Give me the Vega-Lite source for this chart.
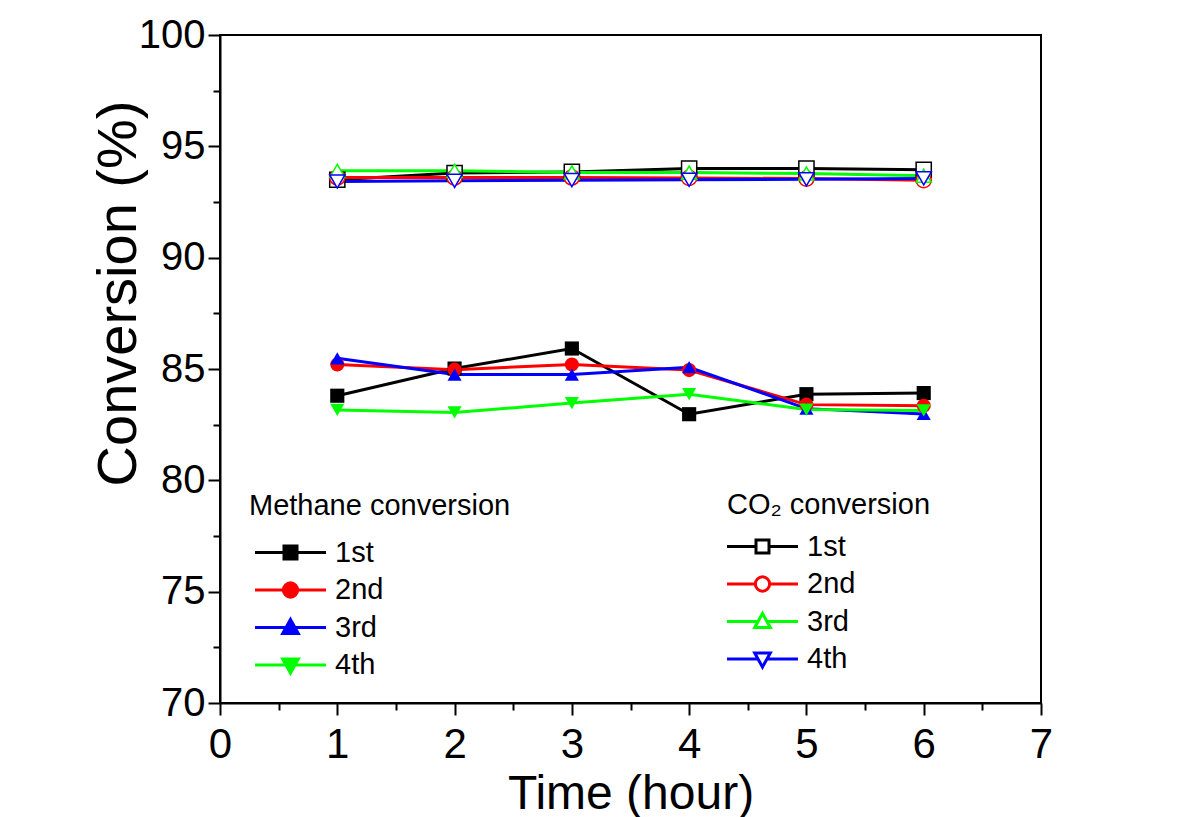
{
  "$schema": "https://vega.github.io/schema/vega-lite/v6.json",
  "width": 821,
  "height": 668,
  "autosize": {"type": "none"},
  "padding": {"left": 220, "top": 35, "right": 154, "bottom": 114},
  "background": "white",
  "config": {
    "font": "Liberation Sans",
    "view": {"stroke": "black", "strokeWidth": 2},
    "axis": {
      "grid": false,
      "domainColor": "black",
      "domainWidth": 2,
      "tickColor": "black",
      "tickWidth": 2,
      "labelColor": "black",
      "titleColor": "black",
      "titleFontWeight": "normal",
      "labelOverlap": false,
      "labelFlush": false,
      "labelBound": false
    },
    "legend": {
      "titleFontWeight": "normal",
      "titleColor": "black",
      "labelColor": "black",
      "titleFontSize": 29,
      "labelFontSize": 29,
      "titleFont": "Liberation Sans",
      "labelFont": "Liberation Sans",
      "titleLimit": 400,
      "padding": 0,
      "symbolOpacity": 1
    }
  },
  "datasets": {
    "methane": [
      {"t": 1, "run": "1st", "conv": 83.8},
      {"t": 2, "run": "1st", "conv": 85.02},
      {"t": 3, "run": "1st", "conv": 85.92},
      {"t": 4, "run": "1st", "conv": 82.97},
      {"t": 5, "run": "1st", "conv": 83.87},
      {"t": 6, "run": "1st", "conv": 83.92},
      {"t": 1, "run": "2nd", "conv": 85.2},
      {"t": 2, "run": "2nd", "conv": 84.97},
      {"t": 3, "run": "2nd", "conv": 85.2},
      {"t": 4, "run": "2nd", "conv": 84.95},
      {"t": 5, "run": "2nd", "conv": 83.4},
      {"t": 6, "run": "2nd", "conv": 83.35},
      {"t": 1, "run": "3rd", "conv": 85.48},
      {"t": 2, "run": "3rd", "conv": 84.75},
      {"t": 3, "run": "3rd", "conv": 84.75},
      {"t": 4, "run": "3rd", "conv": 85.08},
      {"t": 5, "run": "3rd", "conv": 83.22},
      {"t": 6, "run": "3rd", "conv": 82.98},
      {"t": 1, "run": "4th", "conv": 83.16},
      {"t": 2, "run": "4th", "conv": 83.05},
      {"t": 3, "run": "4th", "conv": 83.47},
      {"t": 4, "run": "4th", "conv": 83.87},
      {"t": 5, "run": "4th", "conv": 83.18},
      {"t": 6, "run": "4th", "conv": 83.14}
    ],
    "co2": [
      {"t": 1, "run": "1st", "conv": 93.5},
      {"t": 2, "run": "1st", "conv": 93.8},
      {"t": 3, "run": "1st", "conv": 93.85},
      {"t": 4, "run": "1st", "conv": 94.0},
      {"t": 5, "run": "1st", "conv": 94.0},
      {"t": 6, "run": "1st", "conv": 93.95},
      {"t": 1, "run": "2nd", "conv": 93.6},
      {"t": 2, "run": "2nd", "conv": 93.6},
      {"t": 3, "run": "2nd", "conv": 93.6},
      {"t": 4, "run": "2nd", "conv": 93.58},
      {"t": 5, "run": "2nd", "conv": 93.55},
      {"t": 6, "run": "2nd", "conv": 93.48},
      {"t": 1, "run": "3rd", "conv": 93.9},
      {"t": 2, "run": "3rd", "conv": 93.9},
      {"t": 3, "run": "3rd", "conv": 93.83},
      {"t": 4, "run": "3rd", "conv": 93.82},
      {"t": 5, "run": "3rd", "conv": 93.78},
      {"t": 6, "run": "3rd", "conv": 93.68},
      {"t": 1, "run": "4th", "conv": 93.42},
      {"t": 2, "run": "4th", "conv": 93.45},
      {"t": 3, "run": "4th", "conv": 93.48},
      {"t": 4, "run": "4th", "conv": 93.5},
      {"t": 5, "run": "4th", "conv": 93.52},
      {"t": 6, "run": "4th", "conv": 93.56}
    ]
  },
  "encoding": {
    "x": {
      "field": "t",
      "type": "quantitative",
      "scale": {"domain": [0, 7], "nice": false, "zero": false},
      "axis": {
        "title": "Time (hour)",
        "values": [0, 0.5, 1, 1.5, 2, 2.5, 3, 3.5, 4, 4.5, 5, 5.5, 6, 6.5, 7],
        "labelExpr": "datum.value % 1 === 0 ? format(datum.value, 'd') : ''",
        "tickSize": {"condition": {"test": "datum.value % 1 === 0", "value": 12}, "value": 7},
        "labelFontSize": 42,
        "labelPadding": 9,
        "titleFontSize": 48,
        "titleBaseline": "alphabetic",
        "titleY": 105
      }
    },
    "y": {
      "field": "conv",
      "type": "quantitative",
      "scale": {"domain": [70, 100], "nice": false, "zero": false},
      "axis": {
        "title": "Conversion (%)",
        "values": [70, 72.5, 75, 77.5, 80, 82.5, 85, 87.5, 90, 92.5, 95, 97.5, 100],
        "labelExpr": "datum.value % 5 === 0 ? format(datum.value, 'd') : ''",
        "tickSize": {"condition": {"test": "datum.value % 5 === 0", "value": 12}, "value": 7},
        "labelFontSize": 40,
        "labelPadding": 3,
        "titleFontSize": 56,
        "titleX": -102,
        "titleY": 258,
        "titleBaseline": "middle",
        "titleAlign": "center"
      }
    }
  },
  "layer": [
    {
      "data": {"name": "methane"},
      "layer": [
        {
          "mark": {"type": "line", "strokeWidth": 3},
          "encoding": {
            "color": {
              "field": "run",
              "type": "nominal",
              "scale": {"domain": ["1st", "2nd", "3rd", "4th"], "range": ["#000000", "#ff0000", "#0000ff", "#00ff00"]},
              "legend": null
            }
          }
        },
        {
          "mark": {"type": "point", "filled": true, "size": 200, "opacity": 1},
          "encoding": {
            "color": {
              "field": "run",
              "type": "nominal",
              "scale": {"domain": ["1st", "2nd", "3rd", "4th"], "range": ["#000000", "#ff0000", "#0000ff", "#00ff00"]},
              "legend": null
            },
            "shape": {
              "field": "run",
              "type": "nominal",
              "scale": {"domain": ["1st", "2nd", "3rd", "4th"], "range": ["square", "circle", "triangle-up", "triangle-down"]},
              "legend": null
            }
          }
        },
        {
          "transform": [{"filter": "false"}],
          "mark": {"type": "point", "filled": true, "opacity": 1, "strokeWidth": 3},
          "encoding": {
            "fill": {
              "field": "run",
              "type": "nominal",
              "scale": {"domain": ["1st", "2nd", "3rd", "4th"], "range": ["#000000", "#ff0000", "#0000ff", "#00ff00"]},
              "legend": {"title": "Methane conversion", "orient": "none", "legendX": 29, "legendY": 457, "symbolSize": 676, "symbolStrokeWidth": 3, "symbolOffset": 27, "labelOffset": 30, "rowPadding": 7.5, "titlePadding": 17}
            },
            "stroke": {
              "field": "run",
              "type": "nominal",
              "scale": {"domain": ["1st", "2nd", "3rd", "4th"], "range": ["#000000", "#ff0000", "#0000ff", "#00ff00"]},
              "legend": {"title": "Methane conversion", "orient": "none", "legendX": 29, "legendY": 457, "symbolSize": 676, "symbolStrokeWidth": 3, "symbolOffset": 27, "labelOffset": 30, "rowPadding": 7.5, "titlePadding": 17}
            },
            "shape": {
              "field": "run",
              "type": "nominal",
              "scale": {
                "domain": ["1st", "2nd", "3rd", "4th"],
                "range": [
                  "M-2.73,0H-0.5M0.5,0H2.73M-0.5,-0.5H0.5V0.5H-0.5Z",
                  "M-2.73,0H-0.55M0.55,0H2.73M-0.55,0A0.55,0.55,0,1,0,0.55,0A0.55,0.55,0,1,0,-0.55,0Z",
                  "M-2.73,0H-0.34M0.34,0H2.73M0,-0.62L0.6,0.46H-0.6Z",
                  "M-2.73,0H-0.34M0.34,0H2.73M0,0.62L0.6,-0.46H-0.6Z"
                ]
              },
              "legend": {"title": "Methane conversion", "orient": "none", "legendX": 29, "legendY": 457, "symbolSize": 676, "symbolStrokeWidth": 3, "symbolOffset": 27, "labelOffset": 30, "rowPadding": 7.5, "titlePadding": 17}
            }
          }
        }
      ],
      "resolve": {"scale": {"color": "independent", "shape": "independent", "fill": "independent", "stroke": "independent"}}
    },
    {
      "data": {"name": "co2"},
      "layer": [
        {
          "mark": {"type": "line", "strokeWidth": 3},
          "encoding": {
            "color": {
              "field": "run",
              "type": "nominal",
              "scale": {"domain": ["1st", "2nd", "3rd", "4th"], "range": ["#000000", "#ff0000", "#00ff00", "#0000ff"]},
              "legend": null
            }
          }
        },
        {
          "mark": {"type": "point", "filled": false, "fill": "white", "size": 230, "strokeWidth": 1.5, "opacity": 1},
          "encoding": {
            "color": {
              "field": "run",
              "type": "nominal",
              "scale": {"domain": ["1st", "2nd", "3rd", "4th"], "range": ["#000000", "#ff0000", "#00ff00", "#0000ff"]},
              "legend": null
            },
            "shape": {
              "field": "run",
              "type": "nominal",
              "scale": {"domain": ["1st", "2nd", "3rd", "4th"], "range": ["square", "circle", "triangle-up", "triangle-down"]},
              "legend": null
            }
          }
        },
        {
          "transform": [{"filter": "false"}],
          "mark": {"type": "point", "filled": false, "fill": "white", "opacity": 1, "strokeWidth": 3},
          "encoding": {
            "stroke": {
              "field": "run",
              "type": "nominal",
              "scale": {"domain": ["1st", "2nd", "3rd", "4th"], "range": ["#000000", "#ff0000", "#00ff00", "#0000ff"]},
              "legend": {"title": "CO₂ conversion", "orient": "none", "legendX": 507, "legendY": 456, "symbolSize": 676, "symbolStrokeWidth": 3, "symbolOffset": 21, "labelOffset": 30, "rowPadding": 7.5, "titlePadding": 12, "symbolFillColor": "white"}
            },
            "shape": {
              "field": "run",
              "type": "nominal",
              "scale": {
                "domain": ["1st", "2nd", "3rd", "4th"],
                "range": [
                  "M-2.73,0H-0.5M0.5,0H2.73M-0.5,-0.5H0.5V0.5H-0.5Z",
                  "M-2.73,0H-0.55M0.55,0H2.73M-0.55,0A0.55,0.55,0,1,0,0.55,0A0.55,0.55,0,1,0,-0.55,0Z",
                  "M-2.73,0H-0.34M0.34,0H2.73M0,-0.62L0.6,0.46H-0.6Z",
                  "M-2.73,0H-0.34M0.34,0H2.73M0,0.62L0.6,-0.46H-0.6Z"
                ]
              },
              "legend": {"title": "CO₂ conversion", "orient": "none", "legendX": 507, "legendY": 456, "symbolSize": 676, "symbolStrokeWidth": 3, "symbolOffset": 21, "labelOffset": 30, "rowPadding": 7.5, "titlePadding": 12, "symbolFillColor": "white"}
            }
          }
        }
      ],
      "resolve": {"scale": {"color": "independent", "shape": "independent", "fill": "independent", "stroke": "independent"}}
    }
  ],
  "resolve": {"scale": {"color": "independent", "shape": "independent", "fill": "independent", "stroke": "independent"}}
}
